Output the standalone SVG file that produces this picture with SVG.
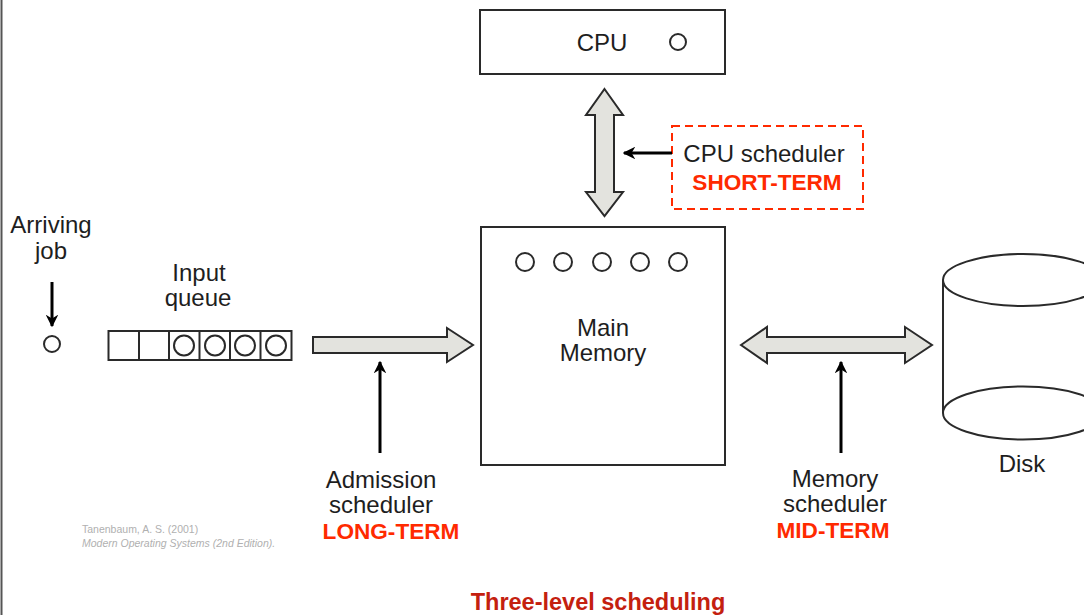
<svg xmlns="http://www.w3.org/2000/svg" width="1084" height="615" viewBox="0 0 1084 615">
<defs>
<style>
.t{font-family:"Liberation Sans",Arial,sans-serif;font-size:24px;fill:#1e1e1e;text-anchor:middle}
.r{font-family:"Liberation Sans",Arial,sans-serif;font-size:22.6px;font-weight:bold;fill:#ff2a00;text-anchor:middle}
.box{fill:#ffffff;stroke:#2a2a2a;stroke-width:2}
.c{fill:none;stroke:#2a2a2a;stroke-width:2}
.fat{fill:#e3e3de;stroke:#2a2a2a;stroke-width:2;stroke-linejoin:miter}
.ptr{stroke:#000;stroke-width:3;fill:none}
</style>
<marker id="ah" viewBox="0 0 10 10" refX="9" refY="5" markerWidth="4.2" markerHeight="4.2" orient="auto" markerUnits="strokeWidth">
<path d="M0,0 L10,5 L0,10 L3,5 Z" fill="#000"/>
</marker>
</defs>
<rect x="0" y="0" width="1084" height="615" fill="#ffffff"/>
<line x1="1.5" y1="0" x2="1.5" y2="615" stroke="#555" stroke-width="2"/>

<g id="cpu">
<rect class="box" x="480" y="10" width="245" height="64"/>
<text class="t" x="602" y="51">CPU</text>
<circle class="c" cx="678" cy="42" r="8"/>
</g>

<g id="main-memory">
<rect class="box" x="481" y="227" width="244" height="238"/>
<circle class="c" cx="525" cy="262" r="9"/>
<circle class="c" cx="563" cy="262" r="9"/>
<circle class="c" cx="602" cy="262" r="9"/>
<circle class="c" cx="640" cy="262" r="9"/>
<circle class="c" cx="678" cy="262" r="9"/>
<text class="t" x="603" y="336">Main</text>
<text class="t" x="603" y="361">Memory</text>
</g>

<g id="arriving-job">
<text class="t" x="51" y="233">Arriving</text>
<text class="t" x="51" y="259">job</text>
<circle class="c" cx="52" cy="344" r="8"/>
</g>

<g id="input-queue">
<text class="t" x="199" y="281">Input</text>
<text class="t" x="198" y="306">queue</text>
<rect class="box" x="108.5" y="331" width="183" height="29"/>
<line class="c" x1="139" y1="331" x2="139" y2="360"/>
<line class="c" x1="169" y1="331" x2="169" y2="360"/>
<line class="c" x1="199.5" y1="331" x2="199.5" y2="360"/>
<line class="c" x1="230" y1="331" x2="230" y2="360"/>
<line class="c" x1="260.5" y1="331" x2="260.5" y2="360"/>
<circle class="c" cx="184" cy="345.5" r="10"/>
<circle class="c" cx="215" cy="345.5" r="10"/>
<circle class="c" cx="245" cy="345.5" r="10"/>
<circle class="c" cx="276" cy="345.5" r="10"/>
</g>

<g id="disk">
<path d="M943,280 L943,413 A80,26.5 0 0 0 1103,413 L1103,280" fill="#fff" stroke="#2a2a2a" stroke-width="2"/>
<ellipse class="c" cx="1023" cy="280" rx="80" ry="26"/>
<path class="c" d="M943,413 A80,26.5 0 0 1 1103,413"/>
<text class="t" x="1022" y="472">Disk</text>
</g>

<g id="cpu-scheduler">
<rect x="672" y="126" width="191" height="83" fill="none" stroke="#ff2a00" stroke-width="2" stroke-dasharray="8,5"/>
<text class="t" x="764" y="162">CPU scheduler</text>
<text class="r" x="767" y="190">SHORT-TERM</text>
</g>

<g id="admission-scheduler">
<text class="t" x="381" y="488">Admission</text>
<text class="t" x="381" y="513">scheduler</text>
<text class="r" x="391" y="539">LONG-TERM</text>
</g>

<g id="memory-scheduler">
<text class="t" x="835" y="487">Memory</text>
<text class="t" x="835" y="512">scheduler</text>
<text class="r" x="833" y="538">MID-TERM</text>
</g>

<g id="citation">
<text x="82" y="533" font-family="Liberation Sans, Arial, sans-serif" font-size="10.5" fill="#b0b0b0">Tanenbaum, A. S. (2001)</text>
<text x="82" y="547" font-family="Liberation Sans, Arial, sans-serif" font-size="10.5" font-style="italic" fill="#b0b0b0">Modern Operating Systems (2nd Edition).</text>
</g>

<g id="title">
<text x="598" y="610" font-family="Liberation Sans, Arial, sans-serif" font-size="23.5" font-weight="bold" fill="#c4200f" text-anchor="middle">Three-level scheduling</text>
</g>

<g id="connectors">
<path class="fat" d="M604.5,89 L623,115 L614,115 L614,192 L623,192 L604.5,216 L586,192 L595,192 L595,115 L586,115 Z"/>
<path class="fat" d="M313,337 L447,337 L447,328 L473,345 L447,362 L447,353 L313,353 Z"/>
<path class="fat" d="M741,345 L767,327 L767,337 L905,337 L905,327 L932,345 L905,363 L905,353 L767,353 L767,363 Z"/>
<line class="ptr" x1="52" y1="282" x2="52" y2="326" marker-end="url(#ah)"/>
<line class="ptr" x1="380" y1="453" x2="380" y2="362" marker-end="url(#ah)"/>
<line class="ptr" x1="841" y1="453" x2="841" y2="362" marker-end="url(#ah)"/>
<line class="ptr" x1="672" y1="153" x2="624" y2="153" marker-end="url(#ah)"/>
</g>
</svg>
